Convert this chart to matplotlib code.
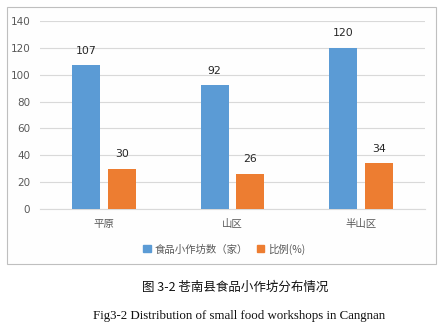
import numpy as np
import matplotlib.pyplot as plt
import matplotlib.patches as mpatches

# workshop counts and share by terrain type
regions = ['平原', '山区', '半山区']
workshop_counts = [107, 92, 120]
share_pct = [30, 26, 34]
series_names = ['食品小作坊数（家）', '比例(%)']
yticks = [0, 20, 40, 60, 80, 100, 120, 140]

plt.rcParams['font.family'] = ['DejaVu Sans', 'Noto Sans CJK SC']

blue = '#5B9BD5'
orange = '#ED7D31'
text_grey = '#595959'

fig = plt.figure(figsize=(4.46, 3.28), dpi=100)
fig.patch.set_facecolor('white')

# chart frame, kept behind the axes
frame = mpatches.Rectangle((7 / 446, 64 / 328), 429 / 446, 257 / 328,
                           transform=fig.transFigure, facecolor='#FEFEFE',
                           edgecolor='#BFBFBF', linewidth=0.8, zorder=-1)
fig.add_artist(frame)

ax = fig.add_axes([40 / 446, 119 / 328, 385 / 446, 188 / 328])
ax.set_facecolor('none')
ax.set_zorder(1)

ind = np.arange(len(regions))
width = 0.218
offset = 0.14

rects1 = ax.bar(ind - offset, workshop_counts, width, color=blue, zorder=3)
rects2 = ax.bar(ind + offset, share_pct, width, color=orange, zorder=3)

for rects, vals in ((rects1, workshop_counts), (rects2, share_pct)):
    for rect, v in zip(rects, vals):
        ax.annotate(str(v), (rect.get_x() + rect.get_width() / 2, v),
                    xytext=(0, 7), textcoords='offset points',
                    ha='center', va='bottom', fontsize=7.8, color='#262626')

ax.set_xlim(-0.5, 2.5)
ax.set_ylim(0, 140)
ax.set_yticks(yticks)
ax.set_xticks(ind)
ax.set_xticklabels(regions, family=['Noto Sans CJK SC'], fontsize=7.5,
                   color=text_grey)
ax.tick_params(axis='y', length=0, labelsize=7.5, labelcolor=text_grey, pad=7)
ax.tick_params(axis='x', length=0, pad=7)
ax.yaxis.grid(True, color='#D9D9D9', linewidth=0.8, zorder=0)
for side in ('top', 'right', 'left'):
    ax.spines[side].set_visible(False)
ax.spines['bottom'].set_color('#D9D9D9')
ax.spines['bottom'].set_linewidth(0.8)

handles = [mpatches.Patch(color=blue, label=series_names[0]),
           mpatches.Patch(color=orange, label=series_names[1])]
fig.legend(handles=handles, loc='center', bbox_to_anchor=(0.503, 79 / 328),
           ncol=2, frameon=False, handlelength=0.7, handleheight=0.7,
           handletextpad=0.4, columnspacing=0.8,
           prop={'family': ['Noto Sans CJK SC'], 'size': 7.5},
           labelcolor=text_grey)

fig.text(0.528, 41 / 328, '图 3-2 苍南县食品小作坊分布情况',
         family=['Noto Sans CJK SC'], fontsize=9, ha='center', va='center',
         color='#111111')
fig.text(0.535, 12 / 328, 'Fig3-2 Distribution of small food workshops in Cangnan',
         family=['Liberation Serif'], fontsize=9.3, ha='center', va='center',
         color='#111111')

fig.savefig('out.png', dpi=100)
